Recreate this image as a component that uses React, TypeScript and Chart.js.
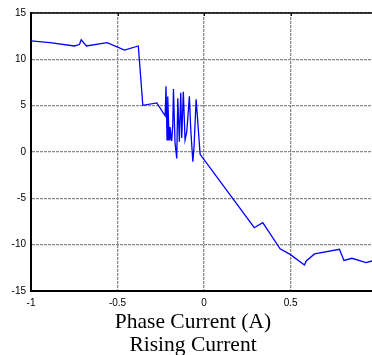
import React, { useEffect, useRef } from 'react';
import { Chart, registerables } from 'chart.js';

Chart.register(...registerables);

const xValues = [
  -1.0, -0.89, -0.75, -0.72, -0.71, -0.68, -0.56, -0.46, -0.38, -0.354, -0.273,
  -0.225, -0.22, -0.214, -0.21, -0.202, -0.197, -0.187, -0.181, -0.177, -0.168,
  -0.158, -0.152, -0.143, -0.135, -0.129, -0.12, -0.11, -0.1, -0.085, -0.077,
  -0.065, -0.058, -0.046, -0.023, 0.29, 0.339, 0.439, 0.497, 0.58, 0.59, 0.638,
  0.782, 0.808, 0.854, 0.936, 0.971,
];
const yValues = [
  12.0, 11.8, 11.44, 11.6, 12.1, 11.44, 11.8, 11.0, 11.44, 5.04, 5.3,
  3.9, 7.1, 1.3, 6.0, 1.3, 2.7, 1.2, 2.9, 6.8, 1.0,
  -0.7, 5.8, 1.1, 6.4, 1.5, 6.5, 1.3, 2.2, 6.0, 2.4,
  -1.05, 0.6, 5.7, -0.25, -8.17, -7.63, -10.45, -11.05, -12.2, -11.76, -11.0,
  -10.5, -11.7, -11.47, -11.94, -11.76,
];
const xTicks = [-1, -0.5, 0, 0.5];
const yTicks = [-15, -10, -5, 0, 5, 10, 15];
const titleLines = ['Phase Current (A)', 'Rising Current'];

export default function App() {
  const ref = useRef<HTMLCanvasElement>(null);

  useEffect(() => {
    if (!ref.current) return;
    const frame = {
      id: 'frame',
      afterDraw(chart: any) {
        const { ctx, chartArea, scales } = chart;
        ctx.save();
        ctx.strokeStyle = '#000';
        ctx.lineWidth = 1.5;
        ctx.beginPath();
        ctx.moveTo(chartArea.left, chartArea.top);
        ctx.lineTo(chartArea.right, chartArea.top);
        ctx.stroke();
        ctx.lineWidth = 1;
        xTicks.forEach((v) => {
          const px = Math.round(scales.x.getPixelForValue(v)) + 0.5;
          ctx.beginPath();
          ctx.moveTo(px, chartArea.top);
          ctx.lineTo(px, chartArea.top + 3);
          ctx.stroke();
        });
        ctx.fillStyle = '#000';
        ctx.font = '21.5px "Liberation Serif", "Times New Roman", serif';
        ctx.textAlign = 'center';
        ctx.textBaseline = 'middle';
        titleLines.forEach((t, i) => {
          ctx.fillText(t, 193, 322 + i * 23);
        });
        ctx.restore();
      },
    };
    const data = xValues.map((x, i) => ({ x, y: yValues[i] }));
    const chart = new Chart(ref.current, {
      type: 'line',
      data: {
        datasets: [
          {
            data,
            borderColor: '#0000ff',
            borderWidth: 1.3,
            pointRadius: 0,
            tension: 0,
            fill: false,
          },
        ],
      },
      options: {
        animation: false,
        responsive: false,
        devicePixelRatio: 1,
        layout: { padding: { top: 13, right: 14, left: 0, bottom: 0 } },
        plugins: {
          legend: { display: false },
          tooltip: { enabled: false },
          title: { display: false },
        },
        scales: {
          x: {
            type: 'linear',
            min: -1,
            max: 0.97,
            afterBuildTicks: (scale: any) => {
              scale.ticks = xTicks.map((v) => ({ value: v }));
            },
            afterFit: (scale: any) => {
              scale.height = 69;
            },
            ticks: {
              color: '#000',
              padding: 6,
              maxRotation: 0,
              font: { family: '"Liberation Sans", Arial, sans-serif', size: 10 },
              callback: (v: any) => String(v),
            },
            grid: { color: '#8a8a8a', lineWidth: 1.3, drawTicks: false },
            border: { display: true, color: '#000', width: 2, dash: [3, 1] },
          },
          y: {
            type: 'linear',
            min: -15,
            max: 15,
            afterBuildTicks: (scale: any) => {
              scale.ticks = yTicks.map((v) => ({ value: v }));
            },
            afterFit: (scale: any) => {
              scale.width = 31;
            },
            ticks: {
              color: '#000',
              padding: 5,
              font: { family: '"Liberation Sans", Arial, sans-serif', size: 10 },
              callback: (v: any) => String(v),
            },
            grid: { color: '#8a8a8a', lineWidth: 1.3, drawTicks: false },
            border: { display: true, color: '#000', width: 2, dash: [3, 1] },
          },
        },
      },
      plugins: [frame],
    } as any);
    return () => chart.destroy();
  }, []);

  return (
    <div style={{ position: 'absolute', left: 0, top: 0, width: 372, height: 355, overflow: 'hidden', background: '#fff' }}>
      <canvas ref={ref} width={386} height={360} style={{ display: 'block', width: 386, height: 360 }} />
    </div>
  );
}
